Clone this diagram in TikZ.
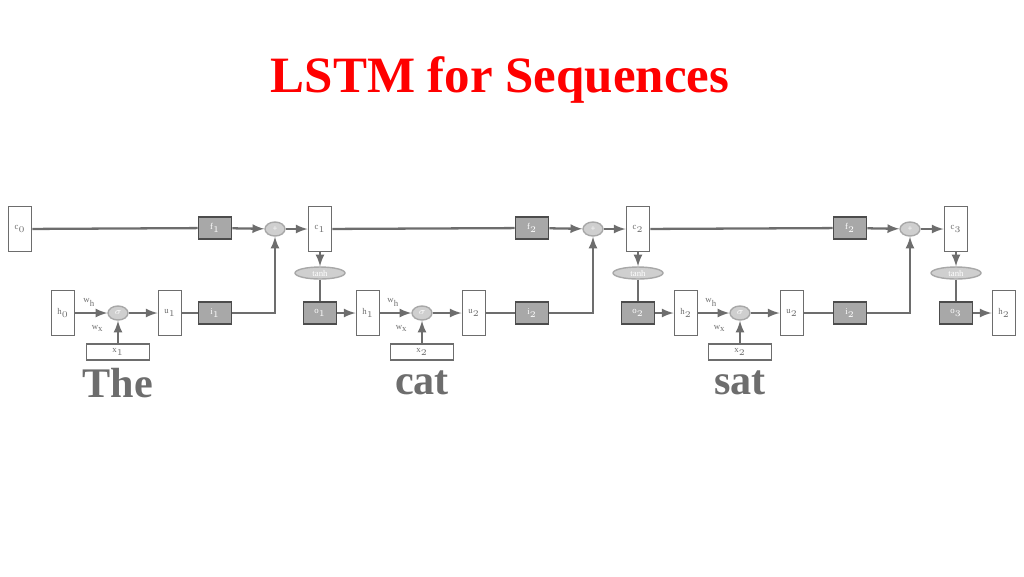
\documentclass[tikz,border=0pt]{standalone}
\usepackage{fontspec}
\setmainfont{Liberation Serif}
\usetikzlibrary{positioning,shapes.geometric}
\definecolor{wire}{HTML}{6D6D6D}
\definecolor{gatefill}{HTML}{A8A8A8}
\definecolor{opfill}{HTML}{CFCFCF}

\begin{document}
\begin{tikzpicture}[x=0.02cm, y=-0.02cm, draw=wire, line width=1.3pt, >=latex,
    font=\fontsize{5}{6}\selectfont]
        \tikzstyle{cell}=[draw=wire, line width=1.1pt, fill=white, minimum width=0.46cm, minimum height=0.9cm, inner sep=0pt, text=wire];
        \tikzstyle{gate}=[draw=wire!70!black, line width=1.1pt, fill=gatefill, minimum width=0.66cm, minimum height=0.44cm, inner sep=0pt, text=white];
        \tikzstyle{op}=[ellipse, draw=gatefill, line width=0.8pt, fill=opfill, minimum width=0.4cm, minimum height=0.28cm, inner sep=0pt, text=white];
        \tikzstyle{squash}=[op, minimum width=1cm, minimum height=0.24cm];
        \tikzstyle{inbox}=[draw=wire, line width=1.1pt, fill=white, minimum width=1.26cm, minimum height=0.32cm, inner sep=0pt, text=wire];
        \tikzstyle{word}=[text=wire, font=\fontsize{24}{28}\selectfont\bfseries];
        \tikzstyle{wlabel}=[text=wire, font=\fontsize{5}{6}\selectfont];
        \path[use as bounding box] (0,0) rectangle (1024,576);

        \node[text=red, font=\fontsize{29}{34}\selectfont\bfseries] (title) at (500,80) {LSTM for Sequences};

        % initial states
        \node[cell] (c-0) at (20,229) {c$_0$};
        \node[cell] (h-0) at (63,313) {h$_0$};

        % one LSTM step per word
        \foreach \k/\cx/\sx/\gx/\px/\ux/\hx/\fl/\il/\ul/\xl/\cl/\ol/\hl/\w in
            {1/320/118/215/275/170/368/1/1/1/1/1/1/1/The,
             2/638/422/532/593/474/686/2/2/2/2/2/2/2/cat,
             3/956/740/850/910/792/1004/2/2/2/2/3/3/2/sat} {
            \pgfmathtruncatemacro{\prev}{\k-1}
            \node[cell] (c-\k) at (\cx,229) {c$_{\cl}$};
            \node[gate] (f-\k) at (\gx,228) {f$_{\fl}$};
            \node[op] (p-\k) at (\px,229) {+};
            \node[squash] (t-\k) at (\cx,273) {tanh};
            \node[gate] (o-\k) at (\cx,313) {o$_{\ol}$};
            \node[cell] (h-\k) at (\hx,313) {h$_{\hl}$};
            \node[op] (s-\k) at (\sx,313) {$\sigma$};
            \node[cell] (u-\k) at (\ux,313) {u$_{\ul}$};
            \node[gate] (i-\k) at (\gx,313) {i$_{\il}$};
            \node[inbox] (x-\k) at (\sx,352) {x$_{\xl}$};
            \node[word] (w-\k) at (\sx,383) {\w};
            \node[wlabel, above left=0pt and 3pt of s-\k.west] (wh-\k) {w$_\mathrm{h}$};
            \node[wlabel, below left=0pt and 0pt of s-\k.south west] (wx-\k) {w$_\mathrm{x}$};
            % cell state path
            \draw (c-\prev) -- (f-\k);
            \draw[->] (f-\k) -- (p-\k);
            \draw[->] (p-\k) -- (c-\k);
            % input path
            \draw[->] (h-\prev) -- (s-\k);
            \draw[->] (x-\k) -- (s-\k);
            \draw[->] (s-\k) -- (u-\k);
            \draw (u-\k) -- (i-\k);
            \draw[->] (i-\k) -| (p-\k);
            % output path
            \draw[->] (c-\k) -- (t-\k);
            \draw (t-\k) -- (o-\k);
            \draw[->] (o-\k) -- (h-\k);
        }
    \end{tikzpicture}
\end{document}
